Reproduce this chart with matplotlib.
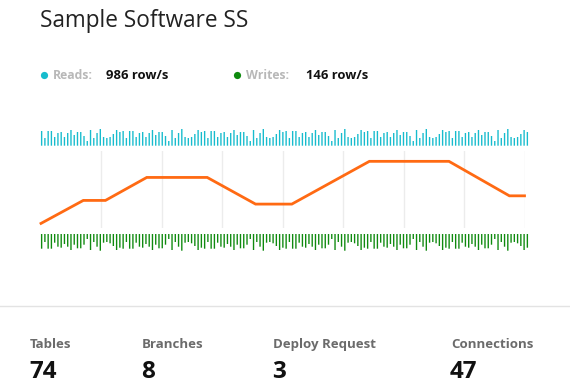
import matplotlib
matplotlib.use("Agg")
import matplotlib.pyplot as plt
from matplotlib.lines import Line2D

plt.rcParams['font.family'] = ['Open Sans', 'DejaVu Sans']

W, H = 570, 383

# ---------------- data ----------------
title = "Sample Software SS"
reads_label, reads_value = "Reads:", "986 row/s"
writes_label, writes_value = "Writes:", "146 row/s"

# sparkline bar heights (one value per bar)
reads_bars = [
    14.7, 7.7, 14.7, 14.7, 8.7, 12.7, 13.7, 8.7, 12.7, 15.7, 10.7, 13.7, 13.7, 9.7, 4.7, 15.7, 7.7, 12.7, 16.7, 8.7, 7.7, 8.7, 11.7, 15.7, 13.7,
    14.7, 7.7, 14.7, 14.7, 8.7, 12.7, 13.7, 8.7, 12.7, 15.7, 10.7, 13.7, 13.7, 9.7, 4.7, 15.7, 7.7, 12.7, 16.7, 8.7, 7.7, 8.7, 11.7, 15.7, 13.7,
    14.7, 7.7, 14.7, 14.7, 8.7, 12.7, 13.7, 8.7, 12.7, 15.7, 10.7, 13.7, 13.7, 9.7, 4.7, 15.7, 7.7, 12.7, 16.7, 8.7, 7.7, 8.7, 11.7, 15.7, 13.7,
    14.7, 7.7, 14.7, 14.7, 8.7, 12.7, 13.7, 8.7, 12.7, 15.7, 10.7, 13.7, 13.7, 9.7, 4.7, 15.7, 7.7, 12.7, 16.7, 8.7, 7.7, 8.7, 11.7, 15.7, 13.7,
    14.7, 7.7, 14.7, 14.7, 8.7, 12.7, 13.7, 8.7, 12.7, 15.7, 10.7, 13.7, 13.7, 9.7, 4.7, 15.7, 7.7, 12.7, 16.7, 8.7, 7.7, 8.7, 11.7, 15.7, 13.7,
    14.7, 7.7, 14.7, 14.7, 8.7, 12.7, 13.7, 8.7, 12.7, 15.7, 10.7, 13.7, 13.7, 9.7, 4.7, 15.7, 7.7, 12.7, 16.7, 8.7, 7.7, 8.7, 11.7, 15.7, 13.7,
]
writes_bars = [
    14.7, 8.0, 14.7, 14.7, 8.7, 12.7, 13.7, 10.0, 12.7, 16.0, 10.7, 14.3, 14.3, 10.7, 5.0, 16.0, 8.0, 12.7, 16.7, 8.7, 8.0, 9.3, 12.0, 16.0, 13.7,
    14.7, 8.0, 14.7, 14.7, 8.7, 12.7, 13.7, 10.0, 12.7, 16.0, 10.7, 14.3, 14.3, 10.7, 5.0, 16.0, 8.0, 12.7, 16.7, 8.7, 8.0, 9.3, 12.0, 16.0, 13.7,
    14.7, 8.0, 14.7, 14.7, 8.7, 12.7, 13.7, 10.0, 12.7, 16.0, 10.7, 14.3, 14.3, 10.7, 5.0, 16.0, 8.0, 12.7, 16.7, 8.7, 8.0, 9.3, 12.0, 16.0, 13.7,
    14.7, 8.0, 14.7, 14.7, 8.7, 12.7, 13.7, 10.0, 12.7, 16.0, 10.7, 14.3, 14.3, 10.7, 5.0, 16.0, 8.0, 12.7, 16.7, 8.7, 8.0, 9.3, 12.0, 16.0, 13.7,
    14.7, 8.0, 14.7, 14.7, 8.7, 12.7, 13.7, 10.0, 12.7, 16.0, 10.7, 14.3, 14.3, 10.7, 5.0, 16.0, 8.0, 12.7, 16.7, 8.7, 8.0, 9.3, 12.0, 16.0, 13.7,
    14.7, 8.0, 14.7, 14.7, 8.7, 12.7, 13.7, 10.0, 12.7, 16.0, 10.7, 14.3, 14.3, 10.7, 5.0, 16.0, 8.0, 12.7, 16.7, 8.7, 8.0, 9.3, 12.0, 16.0, 13.7,
]

# main line series (hour of day, value)
line_hours = [0, 2.1, 3.2, 5.25, 8.25, 10.65, 12.45, 16.3, 20.25, 23.25, 24]
line_values = [10, 20, 20, 30, 30, 18.4, 18.4, 37, 37, 22, 22]
grid_hours = [3, 6, 9, 12, 15, 18, 21, 24]

stat_labels = ["Tables", "Branches", "Deploy Request", "Connections"]
stat_values = ["74", "8", "3", "47"]

# ---------------- styles ----------------
CYAN = "#17bccd"
GREEN = "#0f8a0f"
ORANGE = "#ff6a13"
GRID = "#ececec"


def fx(px):
    return px / W


def fy(py):
    return 1 - py / H


fig = plt.figure(figsize=(W / 100, H / 100), dpi=100)
fig.patch.set_facecolor("white")


def px_axes(x0, y0, x1, y1):
    """axes from pixel box (top-left origin)"""
    ax = fig.add_axes([fx(x0), fy(y1), fx(x1) - fx(x0), (y1 - y0) / H])
    ax.set_facecolor("none")
    for s in ax.spines.values():
        s.set_visible(False)
    ax.tick_params(left=False, bottom=False, labelleft=False, labelbottom=False)
    return ax


# title
fig.text(fx(40), fy(26.7), title, fontsize=16.3, color="#222222", va="baseline", ha="left")

# legend
leg_y = 79
fig.text(fx(53), fy(leg_y), reads_label, fontsize=8.8, fontweight="bold", color="#b8b8b8", va="baseline")
fig.text(fx(106), fy(leg_y), reads_value, fontsize=9.4, fontweight="bold", color="#111111", va="baseline")
fig.text(fx(246), fy(leg_y), writes_label, fontsize=8.8, fontweight="bold", color="#b8b8b8", va="baseline")
fig.text(fx(306), fy(leg_y), writes_value, fontsize=9.4, fontweight="bold", color="#111111", va="baseline")
fig.add_artist(Line2D([fx(44)], [fy(75)], marker="o", markersize=5.2, color=CYAN, markeredgewidth=0, transform=fig.transFigure))
fig.add_artist(Line2D([fx(237)], [fy(75)], marker="o", markersize=5.2, color=GREEN, markeredgewidth=0, transform=fig.transFigure))

n = len(reads_bars)
idx = list(range(n))
bar_w = 0.42

# reads bars (upward)
ax_r = px_axes(40, 127.7, 529, 145.7)
ax_r.bar(idx, reads_bars, width=bar_w, color=CYAN, linewidth=0, snap=False)
ax_r.set_xlim(-0.5, n - 0.5)
ax_r.set_ylim(0, 18)

# writes bars (downward)
ax_w = px_axes(40, 234, 529, 252)
ax_w.bar(idx, writes_bars, width=bar_w, color=GREEN, linewidth=0, snap=False)
ax_w.set_xlim(-0.5, n - 0.5)
ax_w.set_ylim(18, 0)

# main line
ax_l = px_axes(41, 151, 524.5, 228)
ax_l.set_xlim(0, 24)
ax_l.set_ylim(8, 41.5)
ax_l.set_xticks(grid_hours)
ax_l.grid(axis="x", color=GRID, linewidth=1)
ax_l.set_axisbelow(True)
ax_l.plot(line_hours, line_values, color=ORANGE, linewidth=2, solid_joinstyle="miter", clip_on=False)

# separator
fig.add_artist(Line2D([0, 1], [fy(305.5), fy(305.5)], color="#e3e3e3", linewidth=1, transform=fig.transFigure))

# stats
stat_x = [30, 142, 273, 451]
for x, lab, val in zip(stat_x, stat_labels, stat_values):
    fig.text(fx(x), fy(348), lab, fontsize=9.5, fontweight="bold", color="#6b6b6b", va="baseline")
    fig.text(fx(x - 1), fy(377.5), val, fontsize=17.5, fontweight="bold", color="#111111", va="baseline")

fig.savefig("out.png", dpi=100, facecolor="white")
